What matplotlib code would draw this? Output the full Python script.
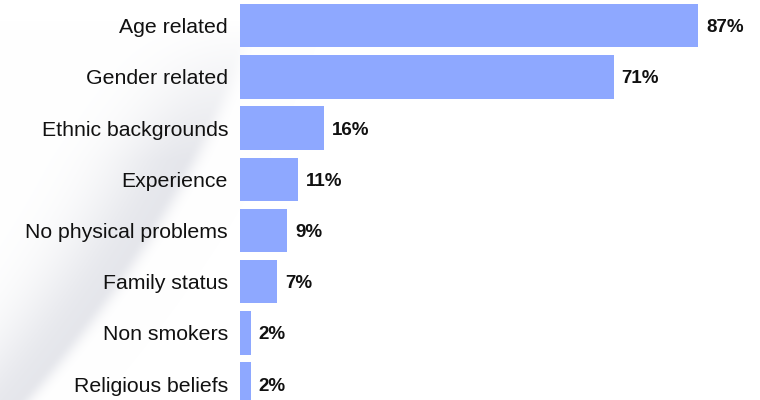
import numpy as np
import matplotlib
matplotlib.use("Agg")
import matplotlib.pyplot as plt

# Reasons given, share of respondents (%)
categories = ["Age related", "Gender related", "Ethnic backgrounds", "Experience",
              "No physical problems", "Family status", "Non smokers", "Religious beliefs"]
values = [87, 71, 16, 11, 9, 7, 2, 2]
value_labels = ["87%", "71%", "16%", "11%", "9%", "7%", "2%", "2%"]

bar_color = "#8ea8ff"
W, H = 760, 400

plt.rcParams["font.family"] = ["Liberation Sans", "DejaVu Sans"]

fig = plt.figure(figsize=(W / 100, H / 100), dpi=100)
fig.patch.set_facecolor("white")

# -------------------------------
# Soft grey swoosh in the background
# -------------------------------
bg = fig.add_axes([0, 0, 1, 1], zorder=0)
yy, xx = np.mgrid[0:H, 0:W].astype(float)
curve = 250 - 0.3 * yy - 0.0007 * yy ** 2
d = xx - curve
shade = np.where(d < 0, np.exp(-(d / 75.0) ** 2), np.exp(-(d / 14.0) ** 2))
shade *= np.clip((yy - 20) / 140.0, 0, 1)
tint = np.array([0.90, 0.905, 0.925])
img = 1 - shade[..., None] * (1 - tint)
bg.imshow(img, extent=[0, W, H, 0], aspect="auto", interpolation="bilinear")
bg.set_xlim(0, W)
bg.set_ylim(H, 0)
bg.axis("off")

# -------------------------------
# Bars
# -------------------------------
ax = fig.add_axes([240 / W, 0, 520 / W, 1], zorder=1)
ax.patch.set_alpha(0)
pos = np.arange(len(categories))
ax.barh(pos, values, height=0.85, color=bar_color)
ax.set_xlim(0, 98.8)
ax.set_ylim(7.31, -0.502)

ax.set_yticks(pos)
ax.set_yticklabels(categories, fontsize=15.3, color="#111111")
ax.tick_params(axis="y", length=0, pad=8.6)
ax.set_xticks([])
for s in ax.spines.values():
    s.set_visible(False)

for p, v, lab in zip(pos, values, value_labels):
    ax.annotate(lab, xy=(v, p), xytext=(8, -2), textcoords="offset pixels",
                ha="left", va="center", fontsize=13.5, fontweight="bold", color="#111111")

fig.savefig("out.png", dpi=100)
plt.close(fig)
